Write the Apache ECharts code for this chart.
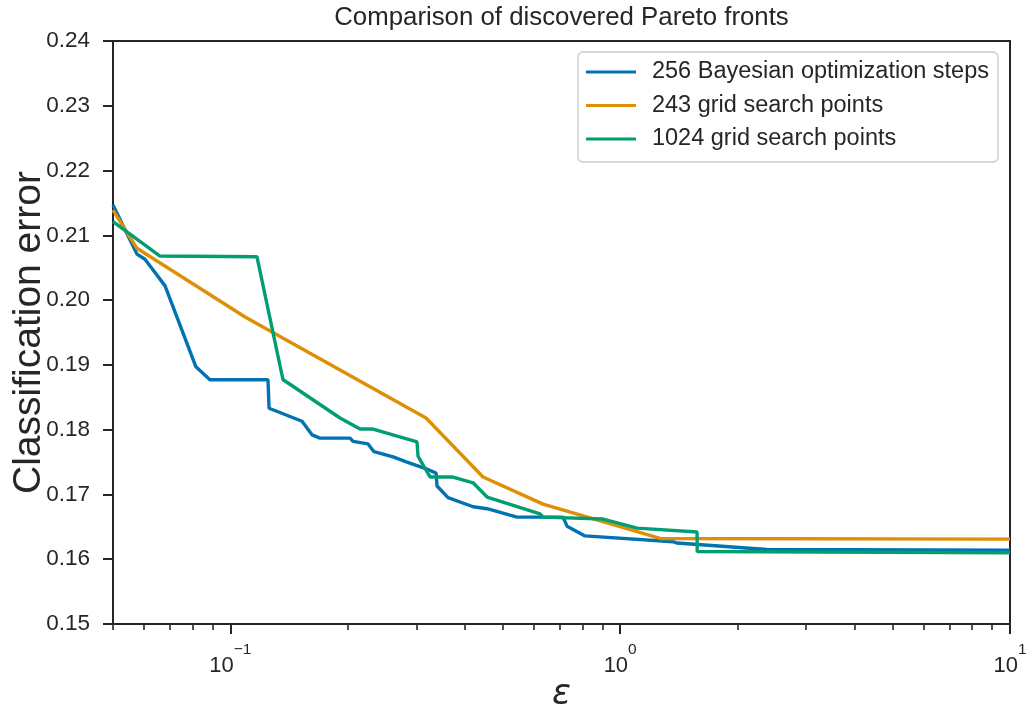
<!DOCTYPE html>
<html><head><meta charset="utf-8">
<script src="https://cdn.jsdelivr.net/npm/echarts@6/dist/echarts.min.js"></script>
<style>html,body{margin:0;padding:0;background:#fff}#c{width:1028px;height:709px}</style>
</head><body><div id="c"></div>
<script>
const titleText = 'Comparison of discovered Pareto fronts';
const seriesNames = ['256 Bayesian optimization steps', '243 grid search points', '1024 grid search points'];
const bayesX = [0.05,0.0576,0.0604,0.0680,0.0816,0.0886,0.1249,0.1257,0.1527,0.1620,0.1698,0.2028,0.2064,0.2255,0.2336,0.2615,0.2839,0.3195,0.3311,0.3370,0.3390,0.3618,0.4195,0.4556,0.5437,0.7136,0.7306,0.8125,1.366,1.399,2.381,10];
const bayesY = [0.2147,0.2071,0.2063,0.2022,0.1897,0.1877,0.1877,0.1833,0.1813,0.1792,0.1787,0.1787,0.1782,0.1778,0.1766,0.1758,0.1750,0.1739,0.1735,0.1733,0.1713,0.1695,0.1681,0.1678,0.1665,0.1665,0.1651,0.1636,0.1627,0.1625,0.1615,0.1614];
const grid243X = [0.05,0.0576,0.1091,0.3177,0.4448,0.6341,1.266,10];
const grid243Y = [0.2139,0.2080,0.1974,0.1818,0.1727,0.1685,0.1632,0.1631];
const grid1024X = [0.05,0.0660,0.1170,0.1365,0.1406,0.1911,0.2151,0.2323,0.3012,0.3030,0.3252,0.3704,0.4195,0.4556,0.6229,0.6341,0.9040,1.105,1.575,1.576,10];
const grid1024Y = [0.2121,0.2068,0.2067,0.1877,0.1872,0.1818,0.1801,0.1801,0.1781,0.1759,0.1727,0.1727,0.1718,0.1696,0.1670,0.1665,0.1662,0.1648,0.1642,0.1612,0.1610];
const xMajorTicks = [0.1, 1, 10];
const xMinorTicks = [0.05,0.06,0.07,0.08,0.09,0.2,0.3,0.4,0.5,0.6,0.7,0.8,0.9,2,3,4,5,6,7,8,9];
const xRange = [0.05, 10];
const yRange = [0.15, 0.24];
const yStep = 0.01;
const colors = ['#0173b2', '#de8f05', '#029e73'];

const ink = '#262626';
const font = 'Liberation Sans, Arial, sans-serif';
const pair = (xs, ys) => xs.map((x, i) => [x, ys[i]]);
const seriesData = [pair(bayesX, bayesY), pair(grid243X, grid243Y), pair(grid1024X, grid1024Y)];

const chart = echarts.init(document.getElementById('c'), null, {renderer: 'canvas'});
chart.setOption({
  animation: false,
  backgroundColor: '#fff',
  title: {
    text: titleText, left: 561.5, top: 5, textAlign: 'center', padding: 0,
    textStyle: {fontFamily: font, fontSize: 25.8, fontWeight: 'normal', color: ink}
  },
  grid: {left: 113, right: 18, top: 41, bottom: 85, outerBoundsMode: 'none', containLabel: false,
         show: true, borderColor: ink, borderWidth: 2, backgroundColor: '#fff'},
  legend: {
    orient: 'vertical', right: 30, top: 52,
    icon: 'rect', itemWidth: 50, itemHeight: 3, itemGap: 7.5,
    padding: [7, 9, 10, 8],
    backgroundColor: 'rgba(255,255,255,0.85)', borderColor: '#cccccc', borderWidth: 1.3, borderRadius: 5,
    textStyle: {fontFamily: font, fontSize: 23.5, color: ink, lineHeight: 26, padding: [0, 0, 0, 11]},
    data: seriesNames
  },
  xAxis: [{
    type: 'log', logBase: 10, min: xRange[0], max: xRange[1],
    name: 'ε', nameLocation: 'middle', nameGap: 53, nameMoveOverlap: false,
    nameTextStyle: {fontFamily: 'DejaVu Sans', fontStyle: 'italic', fontSize: 35, color: ink},
    axisLine: {show: true, lineStyle: {color: ink, width: 2}},
    axisTick: {show: true, inside: false, length: 10, customValues: xMajorTicks, lineStyle: {color: ink, width: 2}},
    minorTick: {show: false},
    splitLine: {show: false},
    axisLabel: {
      show: true, margin: 18, customValues: xMajorTicks, hideOverlap: false, showMinLabel: true, showMaxLabel: true,
      formatter: function (v) {
        const l = Math.log10(v); const e = Math.round(l);
        if (Math.abs(l - e) > 1e-6) return '';
        return '{b|10}{s|' + (e < 0 ? '\u2212' + (-e) : String(e)) + '}';
      },
      rich: {
        b: {fontFamily: font, fontSize: 22, color: ink, verticalAlign: 'bottom', lineHeight: 35},
        s: {fontFamily: font, fontSize: 15.5, color: ink, verticalAlign: 'top', lineHeight: 24}
      }
    }
  }, {
    type: 'log', logBase: 10, min: xRange[0], max: xRange[1], position: 'bottom', offset: 0,
    axisLine: {show: false},
    axisTick: {show: true, inside: false, length: 6, customValues: xMinorTicks, lineStyle: {color: ink, width: 1.6}},
    axisLabel: {show: false},
    splitLine: {show: false}
  }],
  yAxis: {
    type: 'value', min: yRange[0], max: yRange[1], interval: yStep,
    name: 'Classification error', nameLocation: 'middle', nameGap: 64, nameMoveOverlap: false,
    nameTextStyle: {fontFamily: font, fontSize: 39, color: ink},
    axisLine: {show: true, lineStyle: {color: ink, width: 2}},
    axisTick: {show: true, inside: false, length: 10, lineStyle: {color: ink, width: 2}},
    splitLine: {show: false},
    axisLabel: {margin: 23, fontFamily: font, fontSize: 22.5, color: ink, formatter: v => v.toFixed(2)}
  },
  series: seriesData.map((d, i) => ({
    name: seriesNames[i], type: 'line', data: d, xAxisIndex: 0, yAxisIndex: 0,
    symbol: 'none', showSymbol: false, clip: true,
    lineStyle: {color: colors[i], width: 3.4}, itemStyle: {color: colors[i]}, z: 2 + i
  }))
});
</script></body></html>
